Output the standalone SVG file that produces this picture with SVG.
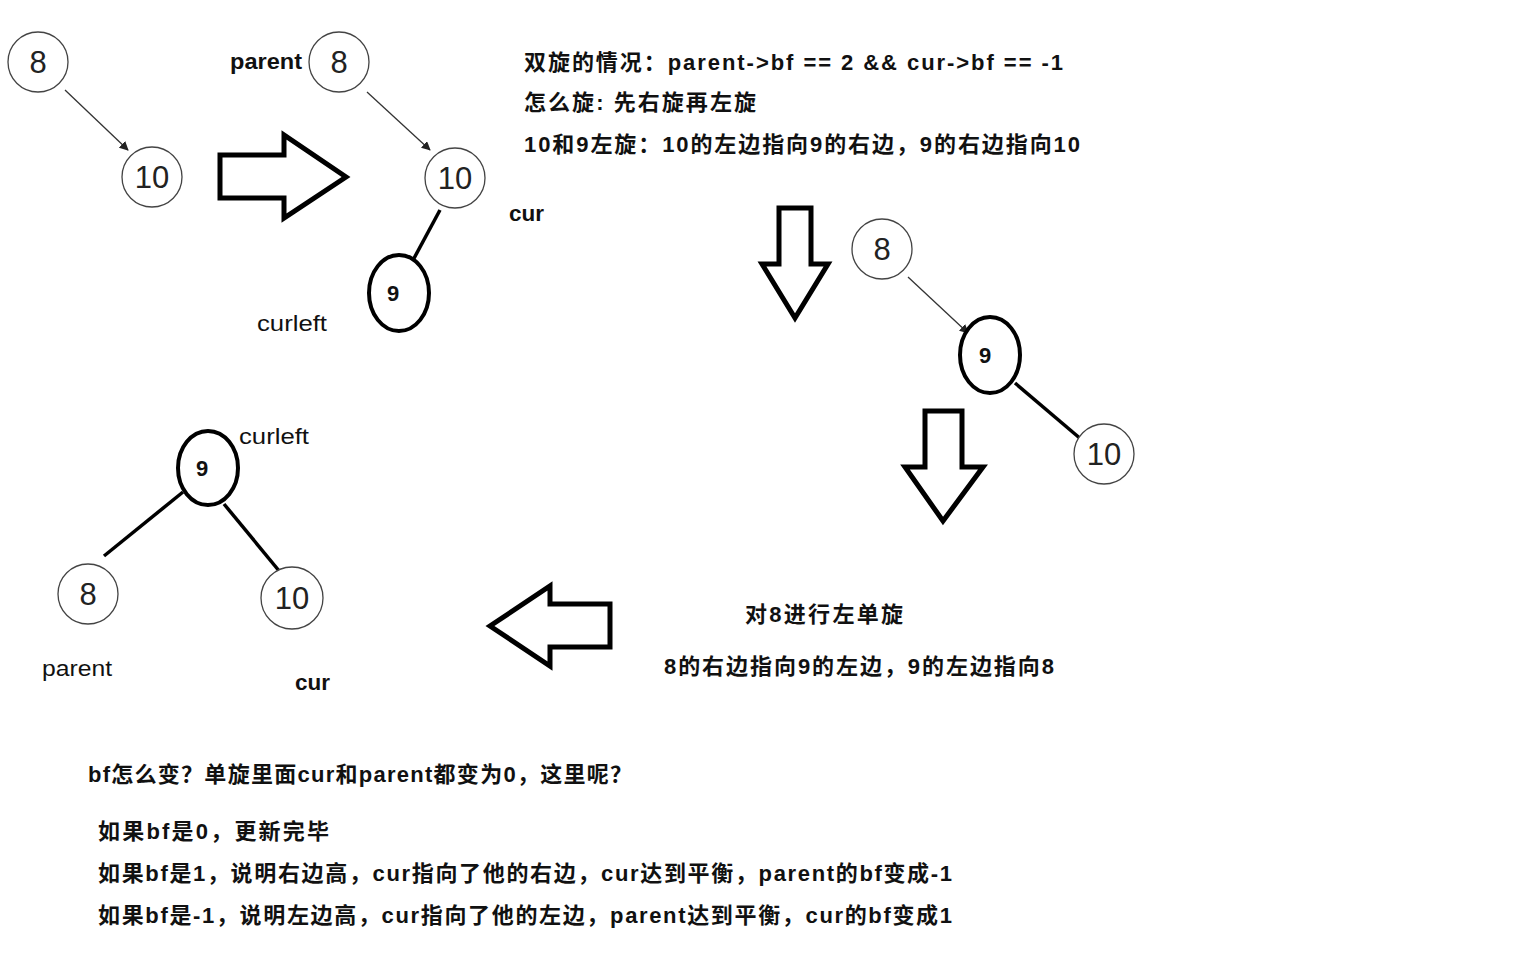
<svg xmlns="http://www.w3.org/2000/svg" width="1536" height="960" viewBox="0 0 1536 960">
<style>
.t{font-family:"Liberation Sans","Noto Sans CJK SC",sans-serif;font-weight:bold;font-size:22px;fill:#111}
.n{font-family:"Liberation Sans",sans-serif;font-size:31px;fill:#222;text-anchor:middle}
.nb{font-family:"Liberation Sans",sans-serif;font-weight:bold;font-size:22px;fill:#111;text-anchor:middle}
.thin{fill:#fff;stroke:#444;stroke-width:1.3}
.thick{fill:#fff;stroke:#000;stroke-width:4}
.big{fill:#fff;stroke:#000;stroke-width:5;stroke-linejoin:miter}
</style>
<defs><marker id="a" viewBox="0 0 10 10" refX="9" refY="5" markerWidth="7" markerHeight="7" orient="auto"><path d="M0,0L10,5L0,10z" fill="#222"/></marker></defs>
<rect width="1536" height="960" fill="#fff"/>
<g id="connectors" stroke="#000">
<line x1="65" y1="90" x2="128" y2="150" stroke-width="1.3" stroke="#333" marker-end="url(#a)"/>
<line x1="367" y1="92" x2="430" y2="150" stroke-width="1.3" stroke="#333" marker-end="url(#a)"/>
<line x1="440" y1="210" x2="412" y2="262" stroke-width="3.5"/>
<line x1="908" y1="277" x2="968" y2="333" stroke-width="1.3" stroke="#333" marker-end="url(#a)"/>
<line x1="1015" y1="383" x2="1082" y2="440" stroke-width="3.5"/>
<line x1="183" y1="492" x2="104" y2="556" stroke-width="3.5"/>
<line x1="224" y1="504" x2="280" y2="572" stroke-width="3.5"/>
</g>
<g id="arrows">
<polygon class="big" points="220,155 284,155 284,135 346,177 284,218 284,198 220,198"/>
<polygon class="big" points="779,208 811,208 811,264 828,264 795,318 762,264 779,264"/>
<polygon class="big" points="925,411 962,411 962,467 983,467 943,521 905,467 925,467"/>
<polygon class="big" points="610,604 550,604 550,586 490,626 550,666 550,647 610,647"/>
</g>
<g id="t1n8"><circle class="thin" cx="38" cy="62" r="30"/><text class="n" x="38" y="73">8</text></g>
<g id="t1n10"><circle class="thin" cx="152" cy="177" r="30"/><text class="n" x="152" y="188">10</text></g>
<g id="t2n8"><circle class="thin" cx="339" cy="62" r="30"/><text class="n" x="339" y="73">8</text></g>
<g id="t2n10"><circle class="thin" cx="455" cy="178" r="30"/><text class="n" x="455" y="189">10</text></g>
<g id="t2n9"><ellipse class="thick" cx="399" cy="293" rx="30" ry="38"/><text class="nb" x="393" y="301">9</text></g>
<g id="t3n8"><circle class="thin" cx="882" cy="249" r="30"/><text class="n" x="882" y="260">8</text></g>
<g id="t3n9"><ellipse class="thick" cx="990" cy="355" rx="30" ry="38"/><text class="nb" x="985" y="363">9</text></g>
<g id="t3n10"><circle class="thin" cx="1104" cy="454" r="30"/><text class="n" x="1104" y="465">10</text></g>
<g id="t4n9"><ellipse class="thick" cx="208" cy="468" rx="30" ry="37"/><text class="nb" x="202" y="476">9</text></g>
<g id="t4n8"><circle class="thin" cx="88" cy="594" r="30"/><text class="n" x="88" y="605">8</text></g>
<g id="t4n10"><circle class="thin" cx="292" cy="598" r="31"/><text class="n" x="292" y="609">10</text></g>
<g id="labels">
<text class="t" x="230" y="69" textLength="72" lengthAdjust="spacingAndGlyphs">parent</text>
<text class="t" x="509" y="221" textLength="35" lengthAdjust="spacingAndGlyphs">cur</text>
<text class="t" x="257" y="331" style="font-weight:normal" textLength="70" lengthAdjust="spacingAndGlyphs">curleft</text>
<text class="t" x="239" y="444" style="font-weight:normal" textLength="70" lengthAdjust="spacingAndGlyphs">curleft</text>
<text class="t" x="42" y="676" style="font-weight:normal" textLength="70" lengthAdjust="spacingAndGlyphs">parent</text>
<text class="t" x="295" y="690" textLength="35" lengthAdjust="spacingAndGlyphs">cur</text>
<text class="t" x="524" y="70" textLength="539">双旋的情况：parent-&gt;bf == 2 &amp;&amp; cur-&gt;bf == -1</text>
<text class="t" x="524" y="110" textLength="232">怎么旋: 先右旋再左旋</text>
<text class="t" x="524" y="152" textLength="556">10和9左旋：10的左边指向9的右边，9的右边指向10</text>
<text class="t" x="745" y="622" textLength="158">对8进行左单旋</text>
<text class="t" x="664" y="674" textLength="390">8的右边指向9的左边，9的左边指向8</text>
<text class="t" x="88" y="782" textLength="544">bf怎么变？单旋里面cur和parent都变为0，这里呢？</text>
<text class="t" x="98" y="839" textLength="231">如果bf是0，更新完毕</text>
<text class="t" x="98" y="881" textLength="854">如果bf是1，说明右边高，cur指向了他的右边，cur达到平衡，parent的bf变成-1</text>
<text class="t" x="98" y="923" textLength="854">如果bf是-1，说明左边高，cur指向了他的左边，parent达到平衡，cur的bf变成1</text>
</g>
</svg>
